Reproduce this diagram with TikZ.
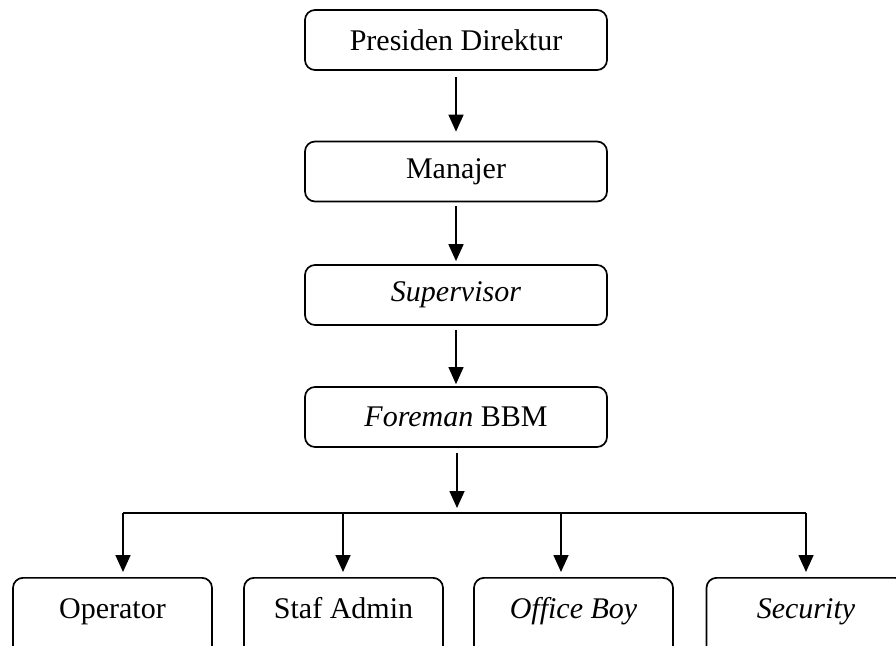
\documentclass[tikz,border=0pt]{standalone}
\usepackage{fontspec}
\setmainfont{Liberation Serif}
\usetikzlibrary{arrows.meta}
\begin{document}
\begin{tikzpicture}[x=1pt,y=-1pt,
  every node/.style={font=\fontsize{30}{35}\selectfont},
  topbox/.style={draw, line width=1.7pt, rounded corners=10pt,
    minimum width=302pt, minimum height=60pt, inner sep=0pt},
  unitbox/.style={draw, line width=1.7pt, rounded corners=10pt,
    minimum width=199pt, text height=36pt, text depth=37pt,
    inner ysep=5pt, inner xsep=0pt, anchor=north},
  link/.style={line width=1.7pt},
  arr/.style={link, -{Triangle[width=15pt,length=17pt]}}]
\useasboundingbox (0,0) rectangle (896,645);
\clip (0,0) rectangle (896,645);

% chain of command
\node[topbox] (pd) at (456,40)  {Presiden Direktur};
\node[topbox] (mj) at (456,171.5) {Manajer};
\node[topbox] (sv) at (456,295) {\textit{Supervisor}};
\node[topbox] (fm) at (456,417) {\textit{Foreman} BBM};

\draw[arr] ([yshift=-6pt]pd.south) -- ([yshift=9pt]mj.north);
\draw[arr] ([yshift=-4pt]mj.south) -- ([yshift=3pt]sv.north);
\draw[arr,line width=1.1pt] ([yshift=-4pt]sv.south) -- ([yshift=2pt]fm.north);

% distribution bar
\coordinate (b1) at (123,513);
\coordinate (b2) at (343,513);
\coordinate (b3) at (561,513);
\coordinate (b4) at (806,513);
\draw[arr] ([xshift=1pt,yshift=-5pt]fm.south) -- ([xshift=1pt]fm.south |- 0,508);
\draw[link] (b1) -- (b4);

% operational units
\node[unitbox] (op) at (112.5,577) {Operator};
\node[unitbox] (sa) at (343.5,577) {Staf Admin};
\node[unitbox] (ob) at (573.5,577) {\textit{Office Boy}};
\node[unitbox] (sc) at (806,577)   {\textit{Security}};

\draw[arr] (b1) -- ([yshift=5pt]b1 |- op.north);
\draw[arr] (b2) -- ([yshift=5pt]b2 |- sa.north);
\draw[arr] (b3) -- ([yshift=5pt]b3 |- ob.north);
\draw[arr] (b4) -- ([yshift=5pt]b4 |- sc.north);
\end{tikzpicture}
\end{document}
